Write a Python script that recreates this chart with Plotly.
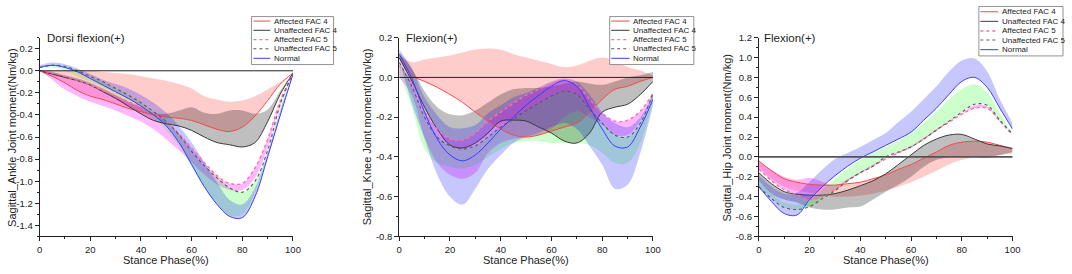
import plotly.graph_objects as go

W, H = 1072, 274
FONT = "Arial, Liberation Sans, sans-serif"

# ---------------- data ----------------
PHASE = [0, 5, 10, 15, 20, 25, 30, 35, 40, 45, 50, 55, 60, 65, 70, 75, 80, 85, 90, 95, 100]
SERIES = ["Affected FAC 4", "Unaffected FAC 4", "Affected FAC 5", "Unaffected FAC 5", "Normal"]

# Ankle
ANK_AF4 = [0.0, -0.05, -0.11, -0.18, -0.23, -0.26, -0.30, -0.34, -0.37, -0.40, -0.42, -0.43, -0.45, -0.49, -0.53, -0.55, -0.51, -0.41, -0.27, -0.12, -0.02]
ANK_AF4_HI = [0.0, 0.0, 0.0, 0.0, 0.0, -0.01, -0.02, -0.03, -0.05, -0.07, -0.09, -0.12, -0.16, -0.23, -0.26, -0.28, -0.27, -0.23, -0.17, -0.10, -0.02]
ANK_UF4 = [0.0, -0.03, -0.06, -0.09, -0.13, -0.19, -0.25, -0.32, -0.39, -0.45, -0.48, -0.50, -0.54, -0.60, -0.65, -0.67, -0.69, -0.65, -0.46, -0.21, -0.02]
ANK_UF4_HI = [0.0, -0.01, -0.04, -0.07, -0.11, -0.16, -0.22, -0.28, -0.33, -0.38, -0.39, -0.36, -0.33, -0.38, -0.39, -0.36, -0.36, -0.39, -0.35, -0.18, -0.02]
ANK_AF5 = [0.0, -0.02, -0.05, -0.09, -0.13, -0.18, -0.23, -0.28, -0.33, -0.39, -0.46, -0.57, -0.70, -0.83, -0.95, -1.02, -1.02, -0.88, -0.62, -0.27, -0.02]
ANK_AF5_LO = [0.0, -0.08, -0.17, -0.23, -0.28, -0.32, -0.36, -0.41, -0.46, -0.53, -0.62, -0.72, -0.83, -0.94, -1.03, -1.08, -1.08, -0.97, -0.70, -0.30, -0.03]
ANK_UF5 = [0.03, 0.05, 0.04, 0.0, -0.05, -0.10, -0.16, -0.22, -0.29, -0.37, -0.46, -0.58, -0.73, -0.86, -0.97, -1.06, -1.10, -1.0, -0.72, -0.30, -0.02]
ANK_UF5_LO = [0.03, 0.03, 0.0, -0.05, -0.10, -0.15, -0.21, -0.27, -0.33, -0.42, -0.54, -0.68, -0.87, -1.06, -1.21, -1.31, -1.30, -1.10, -0.74, -0.34, -0.03]
ANK_NOR = [0.03, 0.05, 0.03, -0.01, -0.07, -0.13, -0.19, -0.25, -0.32, -0.40, -0.50, -0.65, -0.85, -1.05, -1.21, -1.32, -1.33, -1.14, -0.78, -0.40, -0.03]
ANK_NOR_HI = [0.05, 0.075, 0.06, 0.02, -0.03, -0.08, -0.12, -0.16, -0.22, -0.29, -0.38, -0.50, -0.65, -0.83, -1.01, -1.17, -1.21, -1.06, -0.74, -0.35, -0.03]

# Knee
KNE_AF4 = [0.10, 0.01, -0.02, -0.05, -0.086, -0.126, -0.175, -0.22, -0.26, -0.29, -0.30, -0.29, -0.27, -0.25, -0.23, -0.175, -0.11, -0.06, -0.045, -0.02, 0.0]
KNE_AF4_HI = [0.11, 0.076, 0.09, 0.10, 0.11, 0.125, 0.14, 0.145, 0.14, 0.117, 0.10, 0.084, 0.068, 0.052, 0.06, 0.084, 0.10, 0.084, 0.052, 0.035, 0.01]
KNE_UF4 = [0.10, -0.02, -0.15, -0.26, -0.34, -0.355, -0.33, -0.28, -0.22, -0.215, -0.22, -0.25, -0.28, -0.32, -0.33, -0.28, -0.175, -0.15, -0.135, -0.086, -0.02]
KNE_UF4_HI = [0.125, 0.044, -0.07, -0.15, -0.186, -0.19, -0.167, -0.126, -0.086, -0.06, -0.053, -0.053, -0.045, -0.03, -0.02, -0.03, -0.037, -0.02, 0.0, 0.011, 0.027]
KNE_AF5 = [0.06, -0.03, -0.17, -0.26, -0.31, -0.315, -0.28, -0.22, -0.175, -0.13, -0.09, -0.06, -0.03, -0.013, -0.037, -0.11, -0.18, -0.22, -0.215, -0.17, -0.08]
KNE_AF5_LO = [0.0, -0.09, -0.30, -0.43, -0.49, -0.51, -0.48, -0.38, -0.33, -0.31, -0.30, -0.29, -0.26, -0.20, -0.17, -0.20, -0.24, -0.29, -0.29, -0.22, -0.10]
KNE_UF5 = [0.076, -0.045, -0.20, -0.30, -0.345, -0.36, -0.345, -0.30, -0.25, -0.21, -0.167, -0.13, -0.094, -0.07, -0.086, -0.16, -0.23, -0.29, -0.30, -0.23, -0.08]
KNE_UF5_LO = [0.02, -0.15, -0.36, -0.43, -0.45, -0.46, -0.44, -0.40, -0.36, -0.33, -0.32, -0.32, -0.33, -0.33, -0.33, -0.34, -0.38, -0.43, -0.43, -0.33, -0.12]
KNE_NOR = [0.117, -0.005, -0.175, -0.31, -0.39, -0.42, -0.39, -0.33, -0.26, -0.20, -0.14, -0.09, -0.045, -0.016, -0.045, -0.15, -0.26, -0.345, -0.35, -0.25, -0.11]
KNE_NOR_HI = [0.14, 0.044, -0.10, -0.19, -0.25, -0.256, -0.24, -0.18, -0.14, -0.10, -0.078, -0.05, -0.02, -0.005, -0.02, -0.086, -0.175, -0.23, -0.25, -0.20, -0.086]
KNE_NOR_LO = [0.09, -0.13, -0.31, -0.49, -0.60, -0.64, -0.56, -0.46, -0.39, -0.33, -0.30, -0.28, -0.25, -0.23, -0.26, -0.345, -0.44, -0.56, -0.54, -0.38, -0.14]

# Hip
HIP_AF4 = [-0.04, -0.14, -0.22, -0.255, -0.277, -0.284, -0.284, -0.27, -0.255, -0.22, -0.18, -0.126, -0.077, -0.013, 0.05, 0.116, 0.148, 0.158, 0.148, 0.116, 0.084]
HIP_AF4_LO = [-0.10, -0.22, -0.30, -0.34, -0.36, -0.38, -0.40, -0.40, -0.39, -0.37, -0.34, -0.30, -0.255, -0.20, -0.14, -0.077, -0.03, -0.006, 0.0, 0.02, 0.035]
HIP_UF4 = [-0.16, -0.27, -0.35, -0.375, -0.385, -0.385, -0.37, -0.335, -0.29, -0.24, -0.17, -0.077, 0.02, 0.116, 0.18, 0.22, 0.226, 0.18, 0.13, 0.11, 0.084]
HIP_UF4_LO = [-0.24, -0.37, -0.43, -0.46, -0.51, -0.53, -0.53, -0.51, -0.50, -0.43, -0.35, -0.28, -0.20, -0.10, -0.03, 0.0, 0.01, 0.0, -0.01, 0.02, 0.05]
HIP_AF5 = [-0.12, -0.24, -0.33, -0.38, -0.43, -0.40, -0.33, -0.24, -0.16, -0.09, -0.02, 0.04, 0.10, 0.18, 0.27, 0.35, 0.43, 0.49, 0.49, 0.36, 0.22]
HIP_AF5_HI = [-0.05, -0.13, -0.20, -0.23, -0.21, -0.25, -0.29, -0.22, -0.15, -0.08, -0.01, 0.05, 0.11, 0.19, 0.28, 0.36, 0.44, 0.52, 0.51, 0.37, 0.22]
HIP_UF5 = [-0.30, -0.42, -0.51, -0.53, -0.50, -0.42, -0.34, -0.24, -0.16, -0.094, 0.0, 0.05, 0.10, 0.18, 0.27, 0.36, 0.45, 0.53, 0.52, 0.37, 0.23]
HIP_UF5_HI = [-0.25, -0.37, -0.46, -0.48, -0.45, -0.33, -0.22, -0.12, -0.03, 0.04, 0.10, 0.16, 0.245, 0.34, 0.455, 0.58, 0.68, 0.73, 0.65, 0.44, 0.23]
HIP_NOR = [-0.30, -0.45, -0.57, -0.585, -0.43, -0.30, -0.19, -0.094, -0.013, 0.05, 0.116, 0.18, 0.25, 0.37, 0.49, 0.63, 0.76, 0.80, 0.70, 0.49, 0.28]
HIP_NOR_HI = [-0.19, -0.30, -0.37, -0.36, -0.25, -0.126, -0.02, 0.04, 0.10, 0.17, 0.24, 0.35, 0.455, 0.58, 0.71, 0.86, 0.97, 0.99, 0.86, 0.58, 0.34]

X_TICKS = [0, 20, 40, 60, 80, 100]
Y_TICKS = [[-1.4, -1.2, -1.0, -0.8, -0.6, -0.4, -0.2, 0.0, 0.2],
           [-0.8, -0.6, -0.4, -0.2, 0.0, 0.2],
           [-0.8, -0.6, -0.4, -0.2, 0.0, 0.2, 0.4, 0.6, 0.8, 1.0, 1.2]]
Y_TITLES = ["Sagittal_Ankle Joint moment(Nm/kg)", "Sagittal_Knee Joint moment(Nm/kg)", "Sagittal_Hip Joint moment(Nm/kg)"]
PANEL_TITLES = ["Dorsi flexion(+)", "Flexion(+)", "Flexion(+)"]
Y_RANGES = [[-1.5, 0.3], [-0.8, 0.2], [-0.8, 1.2]]

# (mean, lo, hi) per series per panel
PANELS = [
    [(ANK_AF4, ANK_AF4, ANK_AF4_HI), (ANK_UF4, ANK_UF4, ANK_UF4_HI), (ANK_AF5, ANK_AF5_LO, ANK_AF5),
     (ANK_UF5, ANK_UF5_LO, ANK_UF5), (ANK_NOR, ANK_NOR, ANK_NOR_HI)],
    [(KNE_AF4, KNE_AF4, KNE_AF4_HI), (KNE_UF4, KNE_UF4, KNE_UF4_HI), (KNE_AF5, KNE_AF5_LO, KNE_AF5),
     (KNE_UF5, KNE_UF5_LO, KNE_UF5), (KNE_NOR, KNE_NOR_LO, KNE_NOR_HI)],
    [(HIP_AF4, HIP_AF4_LO, HIP_AF4), (HIP_UF4, HIP_UF4_LO, HIP_UF4), (HIP_AF5, HIP_AF5, HIP_AF5_HI),
     (HIP_UF5, HIP_UF5, HIP_UF5_HI), (HIP_NOR, HIP_NOR, HIP_NOR_HI)],
]

# ---------------- styles ----------------
LINE_COLORS = ["#f24a4a", "#3a3a3a", "#ff6fa0", "#5a5a5a", "#3c3cff"]
LINE_DASH = ["solid", "solid", "dot", "dot", "solid"]
LINE_W = [1.0, 1.0, 1.4, 1.1, 1.0]
BAND_COLORS = ["rgba(255,0,0,0.2)", "rgba(0,0,0,0.25)", "rgba(255,0,255,0.28)",
               "rgba(0,255,0,0.2)", "rgba(0,0,255,0.22)"]

# pixel geometry of plot areas
PX_X = [(37, 293), (400.3, 656.7), (763.7, 1020)]
PX_TOP, PX_BOT = 33, 240
YT_X = [9, 368, 732]
TITLE_X = [42, 405, 767]
LEG = [dict(x0=251, x1=334, y0=11, y1=61, lx0=253, lx1=270, tx=272, ry=[15.7, 25.3, 35, 44.5, 54.5]),
       dict(x0=613, x1=698, y0=11, y1=61, lx0=614.5, lx1=633, tx=635, ry=[15.7, 25.3, 35, 44.5, 54.5]),
       dict(x0=986, x1=1071, y0=0.5, y1=52, lx0=987.5, lx1=1005.5, tx=1007.5, ry=[6, 16, 26, 35.5, 45.5])]


def px(x):
    return x / W


def py(y):
    return 1 - y / H


def fmt(v):
    return ("-" if v < 0 else "") + "%.1f" % abs(v)


fig = go.Figure()
layout = dict(width=W, height=H, margin=dict(l=0, r=0, t=0, b=0),
              paper_bgcolor="white", plot_bgcolor="white", showlegend=False,
              font=dict(family=FONT, color="#222"))
shapes, annotations = [], []

for p, series in enumerate(PANELS):
    sfx = "" if p == 0 else str(p + 1)
    xa, ya = "x" + sfx, "y" + sfx
    # bands
    for s, (mean, lo, hi) in enumerate(series):
        fig.add_trace(go.Scatter(x=PHASE, y=lo, xaxis=xa, yaxis=ya, mode="lines",
                                 line=dict(width=0, shape="spline", smoothing=1.0),
                                 hoverinfo="skip"))
        fig.add_trace(go.Scatter(x=PHASE, y=hi, xaxis=xa, yaxis=ya, mode="lines",
                                 line=dict(width=0, shape="spline", smoothing=1.0),
                                 fill="tonexty", fillcolor=BAND_COLORS[s], hoverinfo="skip"))
    # mean lines
    for s, (mean, lo, hi) in enumerate(series):
        fig.add_trace(go.Scatter(x=PHASE, y=mean, xaxis=xa, yaxis=ya, mode="lines", name=SERIES[s],
                                 line=dict(color=LINE_COLORS[s], width=LINE_W[s], dash=LINE_DASH[s],
                                           shape="spline", smoothing=1.0)))
    x0, x1 = PX_X[p]
    layout["xaxis" + sfx] = dict(domain=[px(x0), px(x1)], anchor=ya, range=[0, 100],
                                 tickvals=X_TICKS, ticks="outside", ticklen=4, tickwidth=1,
                                 tickcolor="#222", showline=True, linecolor="#222", linewidth=1,
                                 showgrid=False, zeroline=False,
                                 tickfont=dict(size=9.5, family=FONT, color="#222"),
                                 minor=dict(ticks="outside", ticklen=2, dtick=10, tick0=0,
                                            tickcolor="#222", showgrid=False))
    layout["yaxis" + sfx] = dict(domain=[py(PX_BOT), py(PX_TOP)], anchor=xa, range=Y_RANGES[p],
                                 tickvals=Y_TICKS[p], ticktext=[fmt(v) for v in Y_TICKS[p]],
                                 ticks="outside", ticklen=4,
                                 tickwidth=1, tickcolor="#222", showline=True, linecolor="#222",
                                 linewidth=1, showgrid=False, zeroline=False,
                                 tickfont=dict(size=9.5, family=FONT, color="#222"),
                                 minor=dict(ticks="outside", ticklen=2, dtick=0.1, tick0=0,
                                            tickcolor="#222", showgrid=False))
    # zero reference line
    shapes.append(dict(type="line", xref=xa + " domain", yref=ya, x0=0, x1=1, y0=0, y1=0,
                       line=dict(color="#222" if p < 2 else "#555", width=1 if p < 2 else 1.6),
                       layer="above"))
    # axis titles & panel title
    annotations.append(dict(text="Stance Phase(%)", xref="paper", yref="paper",
                            x=px((x0 + x1) / 2), y=py(265), showarrow=False,
                            font=dict(size=11, family=FONT, color="#222"),
                            xanchor="center", yanchor="middle"))
    annotations.append(dict(text=Y_TITLES[p], xref="paper", yref="paper", x=px(YT_X[p]),
                            y=py((PX_TOP + PX_BOT) / 2), textangle=-90, showarrow=False,
                            font=dict(size=11, family=FONT, color="#222"),
                            xanchor="center", yanchor="middle"))
    annotations.append(dict(text=PANEL_TITLES[p], xref="paper", yref="paper", x=px(TITLE_X[p]),
                            y=py(33), showarrow=False, font=dict(size=11.5, family=FONT, color="#222"),
                            xanchor="left", yanchor="middle"))
    # manual legend box
    lg = LEG[p]
    shapes.append(dict(type="rect", xref="paper", yref="paper", x0=px(lg["x0"]), x1=px(lg["x1"]),
                       y0=py(lg["y1"]), y1=py(lg["y0"]), line=dict(color="#777", width=0.8),
                       fillcolor="white", layer="above"))
    for s in range(5):
        ry = lg["ry"][s]
        shapes.append(dict(type="line", xref="paper", yref="paper", x0=px(lg["lx0"]), x1=px(lg["lx1"]),
                           y0=py(ry), y1=py(ry),
                           line=dict(color=LINE_COLORS[s], width=LINE_W[s],
                                     dash=LINE_DASH[s]), layer="above"))
        annotations.append(dict(text=SERIES[s], xref="paper", yref="paper", x=px(lg["tx"]), y=py(ry),
                                showarrow=False, font=dict(size=8, family=FONT, color="#222"),
                                xanchor="left", yanchor="middle"))

layout["shapes"] = shapes
layout["annotations"] = annotations
fig.update_layout(**layout)
fig.write_html("out.html", config={"displayModeBar": False, "staticPlot": True},
               post_script="document.body.style.margin='0';document.body.style.padding='0';"
                           "document.body.style.overflow='hidden';")
